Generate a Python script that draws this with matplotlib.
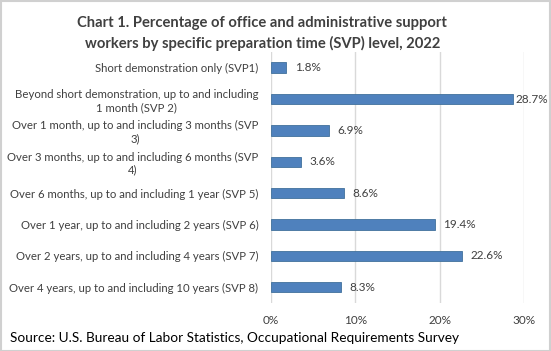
import matplotlib.pyplot as plt
from matplotlib.ticker import FuncFormatter

# data
categories = [
    'Short demonstration only (SVP1)',
    'Beyond short demonstration, up to and including\n1 month (SVP 2)',
    'Over 1 month, up to and including 3 months (SVP\n3)',
    'Over 3 months, up to and including 6 months (SVP\n4)',
    'Over 6 months, up to and including 1 year (SVP 5)',
    'Over 1 year, up to and including 2 years (SVP 6)',
    'Over 2 years, up to and including 4 years (SVP 7)',
    'Over 4 years, up to and including 10 years (SVP 8)',
]
values = [1.8, 28.7, 6.9, 3.6, 8.6, 19.4, 22.6, 8.3]
xticks = [0, 10, 20, 30]

plt.rcParams['font.family'] = ['Lato', 'DejaVu Sans']
txt = '#404040'

fig = plt.figure(figsize=(5.51, 3.51), dpi=100)
ax = fig.add_axes([0.4918, 0.1368, 0.4592, 0.7151])

pos = list(range(len(values)))
ax.barh(pos, values, height=0.33, color='#4f81bd', edgecolor='#41719c', linewidth=0.6, zorder=3)
for p, v in zip(pos, values):
    # excel pulls the label in when it would run off the chart
    ax.text(min(v + 1.0, 29.0), p, f'{v}%', va='center', ha='left', fontsize=8.5, color=txt, clip_on=False)

ax.set_ylim(len(values) - 0.5, -0.5)
ax.set_xlim(0, 30)
ax.set_xticks(xticks)
ax.xaxis.set_major_formatter(FuncFormatter(lambda x, _: f'{x:.0f}%'))
ax.set_yticks(pos)
ax.set_yticklabels(categories, multialignment='center')
ax.tick_params(axis='y', length=0, pad=9, labelsize=8.2, labelcolor=txt)
ax.tick_params(axis='x', length=0, pad=9, labelsize=8.5, labelcolor=txt)
ax.grid(axis='x', color='#d9d9d9', linewidth=1, zorder=0)
for s in ax.spines.values():
    s.set_visible(False)

fig.text(0.476, 0.905, 'Chart 1. Percentage of office and administrative support\nworkers by specific preparation time (SVP) level, 2022',
         ha='center', va='center', fontsize=10.6, fontweight='bold', color=txt, linespacing=1.45)
fig.text(0.018, 0.037, 'Source: U.S. Bureau of Labor Statistics, Occupational Requirements Survey',
         ha='left', va='center', fontsize=9.85, color='black')

fig.patches.append(plt.Rectangle((0.001, 0.001), 0.997, 0.997, transform=fig.transFigure,
                                 fill=False, edgecolor='#d0d0d0', linewidth=1.5))

fig.savefig('out.png', dpi=100)
